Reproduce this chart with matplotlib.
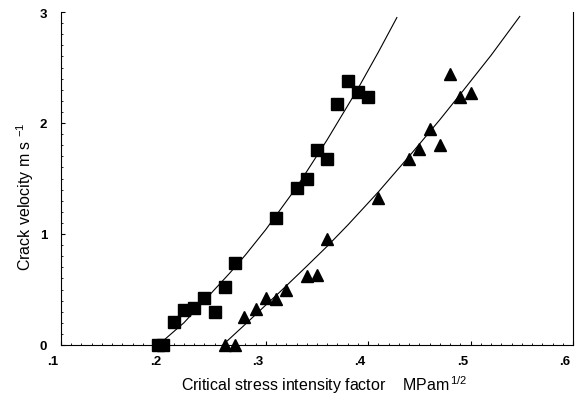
import matplotlib
matplotlib.use('Agg')
import matplotlib.pyplot as plt
import matplotlib.transforms as mtransforms
from matplotlib.ticker import MultipleLocator

plt.rcParams['font.family'] = ['Liberation Sans', 'DejaVu Sans']
plt.rcParams['mathtext.default'] = 'regular'

# squares
k_sq = [0.195, 0.20, 0.21, 0.22, 0.23, 0.24, 0.25, 0.26, 0.27,
        0.31, 0.33, 0.34, 0.35, 0.36, 0.37, 0.38, 0.39, 0.40]
v_sq = [0.0, 0.0, 0.21, 0.315, 0.333, 0.42, 0.30, 0.52, 0.74,
        1.14, 1.41, 1.50, 1.76, 1.68, 2.17, 2.38, 2.28, 2.23]

# triangles
k_tr = [0.26, 0.27, 0.279, 0.29, 0.30, 0.31, 0.32, 0.34, 0.35, 0.36,
        0.41, 0.44, 0.45, 0.46, 0.47, 0.48, 0.49, 0.50]
v_tr = [0.0, 0.0, 0.25, 0.32, 0.42, 0.41, 0.50, 0.62, 0.63, 0.955,
        1.32, 1.68, 1.77, 1.95, 1.80, 2.44, 2.23, 2.27]

# fitted curves
k_fit_sq = [0.195, 0.22, 0.24, 0.265, 0.28, 0.30, 0.33, 0.36, 0.39, 0.41, 0.428]
v_fit_sq = [0.0, 0.20, 0.40, 0.65, 0.81, 1.04, 1.42, 1.85, 2.31, 2.64, 2.95]

k_fit_tr = [0.258, 0.278, 0.30, 0.314, 0.34, 0.36, 0.38, 0.41, 0.44, 0.47, 0.49, 0.52, 0.548]
v_fit_tr = [0.0, 0.17, 0.36, 0.48, 0.71, 0.89, 1.08, 1.38, 1.70, 2.03, 2.26, 2.61, 2.96]

x_ticks = [0.1, 0.2, 0.3, 0.4, 0.5, 0.6]
x_labels = ['.1', '.2', '.3', '.4', '.5', '.6']
y_ticks = [0, 1, 2, 3]

fig = plt.figure(figsize=(5.76, 4.02), dpi=100)
ax = fig.add_axes([61 / 576, 56 / 402, 512 / 576, 333 / 402])

ax.plot(k_fit_sq, v_fit_sq, color='black', lw=0.8)
ax.plot(k_fit_tr, v_fit_tr, color='black', lw=0.8)
ax.plot(k_sq, v_sq, 's', color='black', ms=8.5, clip_on=False)
ax.plot(k_tr, v_tr, '^', color='black', ms=9, clip_on=False)

ax.set_xlim(0.1, 0.6)
ax.set_ylim(0, 3)
ax.set_xticks(x_ticks)
ax.set_xticklabels(x_labels)
ax.set_yticks(y_ticks)
ax.xaxis.set_minor_locator(MultipleLocator(0.01))
ax.yaxis.set_minor_locator(MultipleLocator(0.1))

ax.spines['top'].set_visible(False)
for s in ['left', 'bottom', 'right']:
    ax.spines[s].set_linewidth(0.8)

ax.tick_params(which='major', direction='in', length=3, width=0.8,
               labelsize=9.5)
ax.tick_params(which='minor', direction='in', length=1.5, width=0.6)
ax.tick_params(axis='x', pad=7)
ax.tick_params(axis='y', pad=10)
for lab in ax.get_xticklabels() + ax.get_yticklabels():
    lab.set_fontweight('bold')

offset = mtransforms.ScaledTranslation(-8 / 100, 0, fig.dpi_scale_trans)
for lab in ax.get_xticklabels():
    lab.set_transform(lab.get_transform() + offset)

ax.set_xlabel('Critical stress intensity factor    MPam$^{\\,1/2}$', fontsize=11.5)
ax.set_ylabel('Crack velocity m s $^{-1}$', fontsize=11.5)
ax.xaxis.set_label_coords(0.515, -0.117)
ax.yaxis.set_label_coords(-0.07, 0.45)
ax.xaxis.label.set_va('center')
ax.yaxis.label.set_va('center')

plt.savefig('out.png', dpi=100)
